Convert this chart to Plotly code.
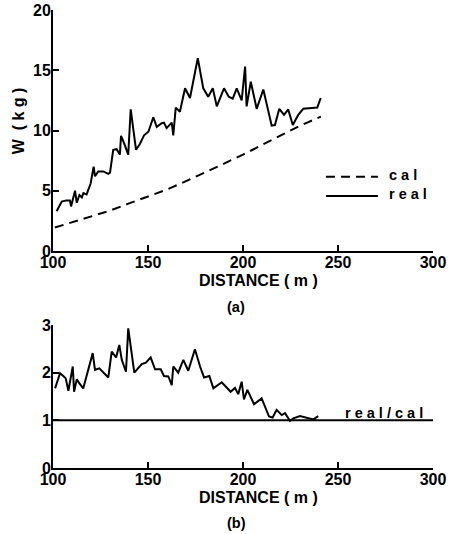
import plotly.graph_objects as go

# ---- measured load W along the route (kg) ----
real_x = [101.9, 104.6, 107.0, 108.9, 109.5, 110.7, 111.6, 112.5, 113.9, 115.2,
          116.0, 117.7, 119.8, 121.4, 122.1, 123.8, 126.5, 129.1, 130.0, 131.7,
          133.5, 135.2, 135.8, 137.4, 139.6, 140.9, 141.9, 143.7, 145.8, 147.9,
          150.2, 152.8, 154.6, 157.2, 158.4, 159.8, 162.5, 163.3, 164.6, 166.8,
          169.5, 172.1, 176.2, 179.1, 181.7, 184.1, 186.2, 190.0, 192.5, 194.6,
          196.7, 198.1, 199.3, 200.2, 201.1, 201.9, 204.1, 207.2, 210.7, 215.1,
          216.8, 219.1, 221.6, 223.8, 226.2, 229.1, 231.7, 239.1, 240.9]
real_w = [3.3, 4.1, 4.2, 4.2, 3.7, 4.5, 5.0, 4.0, 4.65, 4.45,
          4.8, 4.7, 5.6, 7.0, 6.2, 6.6, 6.6, 6.4, 6.5, 8.4,
          8.45, 8.0, 9.55, 8.95, 8.0, 11.76, 10.6, 8.4, 8.9, 9.6,
          9.9, 11.1, 10.3, 10.6, 10.65, 10.2, 10.65, 9.6, 11.9, 11.55,
          13.5, 12.7, 16.0, 13.5, 12.8, 13.5, 12.0, 13.5, 12.8, 12.65,
          13.5, 12.95, 12.5, 13.9, 15.3, 12.0, 14.05, 11.8, 13.4, 10.4,
          10.45, 11.8, 11.3, 11.75, 10.45, 11.3, 11.8, 11.9, 12.7]

# ---- calculated load (kg) ----
cal_x = [101, 110, 120, 130, 140, 150, 160, 170, 180, 190, 200, 210, 220, 230, 241]
cal_w = [1.95, 2.4, 2.85, 3.35, 3.95, 4.5, 5.1, 5.8, 6.5, 7.25, 8.0, 8.8, 9.6, 10.4, 11.15]

# ---- ratio real/cal ----
ratio_x = [101.1, 103.7, 105.4, 106.7, 108.1, 110.4, 111.1, 112.5, 113.8, 115.9,
           120.9, 122.1, 124.4, 129.1, 130.9, 133.2, 134.9, 136.2, 138.4, 139.6,
           142.8, 146.7, 148.9, 151.4, 153.7, 156.7, 158.4, 160.7, 162.5, 163.3,
           165.9, 168.6, 171.2, 174.7, 177.4, 179.5, 182.3, 184.4, 188.8, 192.3,
           193.5, 195.8, 197.5, 199.3, 200.5, 202.3, 205.8, 209.8, 213.7, 215.6,
           217.7, 220.4, 222.1, 224.7, 226.5, 230.0, 233.5, 237.0, 239.6]
ratio_v = [1.67, 1.99, 1.93, 1.88, 1.62, 2.13, 1.6, 1.86, 1.78, 1.67,
           2.41, 2.06, 2.09, 1.9, 2.44, 2.32, 2.58, 2.27, 2.02, 2.93,
           2.0, 2.18, 2.21, 2.32, 2.07, 2.07, 1.93, 1.92, 1.74, 2.13,
           2.0, 2.27, 2.04, 2.49, 2.13, 1.9, 1.93, 1.67, 1.8, 1.64,
           1.6, 1.68, 1.55, 1.81, 1.44, 1.64, 1.34, 1.46, 1.08, 1.06,
           1.22, 1.11, 1.15, 0.99, 1.04, 1.09, 1.06, 1.02, 1.09]

unity_x = [100, 300]
unity_v = [1, 1]

x_ticks = [100, 150, 200, 250, 300]
w_ticks = [0, 5, 10, 15, 20]
r_ticks = [0, 1, 2, 3]

FONT = "Liberation Sans"
INK = "#000000"

fig = go.Figure()

fig.add_trace(go.Scatter(x=cal_x, y=cal_w, mode="lines", xaxis="x", yaxis="y",
                         line=dict(color=INK, width=2, dash="9px,6px"),
                         showlegend=False))
fig.add_trace(go.Scatter(x=real_x, y=real_w, mode="lines", xaxis="x", yaxis="y",
                         line=dict(color=INK, width=2), showlegend=False))
fig.add_trace(go.Scatter(x=unity_x, y=unity_v, mode="lines", xaxis="x2", yaxis="y2",
                         line=dict(color=INK, width=2), showlegend=False))
fig.add_trace(go.Scatter(x=ratio_x, y=ratio_v, mode="lines", xaxis="x2", yaxis="y2",
                         line=dict(color=INK, width=2), showlegend=False))

tick_font = dict(family=FONT, size=16, color=INK, weight="bold")


def axis_style(**kw):
    base = dict(showline=True, linewidth=2, linecolor=INK, mirror=False,
                ticks="inside", ticklen=6, tickwidth=2, tickcolor=INK,
                showgrid=False, zeroline=False, tickfont=tick_font)
    base.update(kw)
    return base


fig.update_layout(
    template="none",
    width=453, height=534,
    margin=dict(l=53, r=20, t=10, b=66),
    paper_bgcolor="white", plot_bgcolor="white",
    xaxis=axis_style(domain=[0, 1], range=[100, 300], anchor="y",
                     tickvals=x_ticks, ticklabelstandoff=-4),
    yaxis=axis_style(domain=[0.4738, 1.0], range=[0, 20], anchor="x",
                     tickvals=w_ticks, ticklabelstandoff=-3),
    xaxis2=axis_style(domain=[0, 1], range=[100, 300], anchor="y2",
                      tickvals=x_ticks, ticklabelstandoff=-4),
    yaxis2=axis_style(domain=[0, 0.3122], range=[0, 3], anchor="x2",
                      tickvals=r_ticks, ticklabelstandoff=-3),
)

label_font = dict(family=FONT, size=16, color=INK, weight="bold")
small_font = dict(family=FONT, size=14.5, color=INK, weight="bold")

# legend of the upper panel
fig.add_shape(type="line", xref="x", yref="y", x0=243.7, x1=271.0, y0=6.17, y1=6.17,
              line=dict(color=INK, width=2, dash="9px,6px"))
fig.add_shape(type="line", xref="x", yref="y", x0=243.7, x1=271.0, y0=4.56, y1=4.56,
              line=dict(color=INK, width=2))


def note(text, x, y, xref, yref, font, xanchor="center", angle=0):
    return dict(text=text, x=x, y=y, xref=xref, yref=yref, xanchor=xanchor,
                yanchor="middle", textangle=angle, showarrow=False, font=font)


annotations = [
    note("c a l", 275.8, 6.3, "x", "y", small_font, xanchor="left"),
    note("r e a l", 275.8, 4.7, "x", "y", small_font, xanchor="left"),
    note("r e a l / c a l", 252.6, 1.15, "x2", "y2", small_font, xanchor="left"),
    note("W  ( k g )", -0.092, 0.757, "paper", "paper", label_font, angle=-90),
    note("DISTANCE ( m )", 0.5395, 0.4083, "paper", "paper", label_font),
    note("(a)", 0.4816, 0.3515, "paper", "paper", small_font),
    note("DISTANCE ( m )", 0.5395, -0.0655, "paper", "paper", label_font),
    note("(b)", 0.4816, -0.120, "paper", "paper", small_font),
]
fig.update_layout(annotations=annotations)

fig.write_html("out.html")
